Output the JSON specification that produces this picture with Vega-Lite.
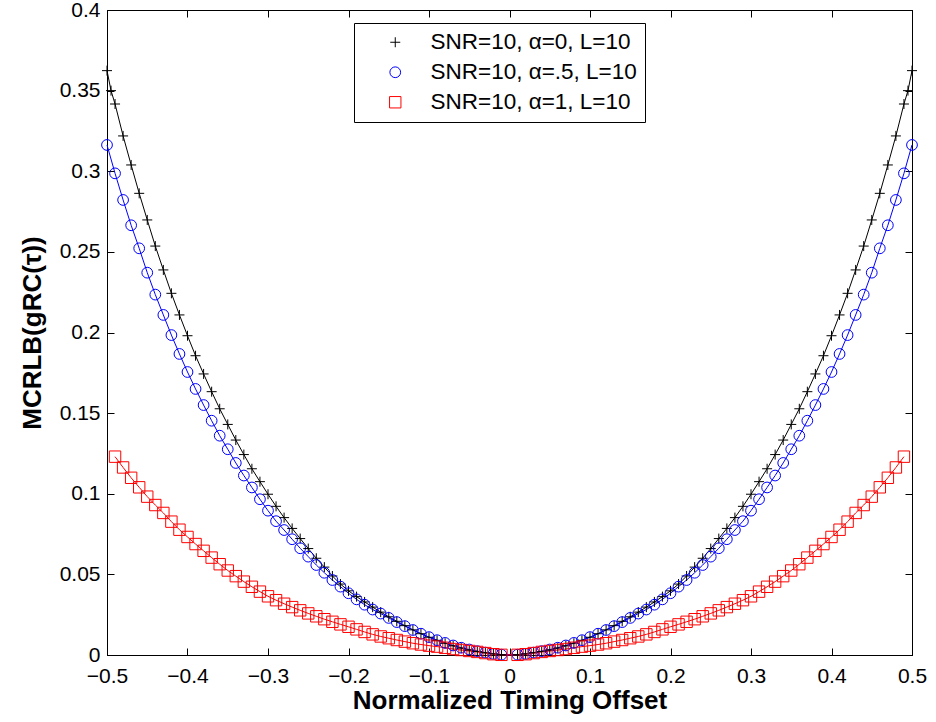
{
  "$schema": "https://vega.github.io/schema/vega-lite/v6.json",
  "width": 805,
  "height": 645,
  "autosize": {"type": "none"},
  "padding": {"left": 107, "top": 10, "right": 24, "bottom": 67},
  "background": "white",
  "config": {
    "view": {"stroke": "black", "strokeWidth": 1},
    "font": "Liberation Sans",
    "axis": {
      "grid": false,
      "domainColor": "black",
      "tickColor": "black",
      "labelColor": "black",
      "titleColor": "black",
      "labelFont": "Liberation Sans",
      "titleFont": "Liberation Sans",
      "labelFontSize": 21,
      "titleFontSize": 26,
      "titleFontWeight": "bold",
      "tickSize": -7,
      "labelPadding": 14,
      "labelFlush": false
    },
    "legend": {
      "labelFont": "Liberation Sans",
      "labelFontSize": 22.5,
      "labelColor": "black",
      "labelLimit": 500
    }
  },
  "data": {
    "values": [
      {"x": -0.5, "k": 0.3624, "b": 0.3163},
      {"x": -0.495, "k": 0.350},
      {"x": -0.49, "k": 0.3417, "b": 0.2987, "r": 0.1230},
      {"x": -0.48, "k": 0.3219, "b": 0.2822, "r": 0.1163},
      {"x": -0.47, "k": 0.3039, "b": 0.2665, "r": 0.1099},
      {"x": -0.46, "k": 0.2863, "b": 0.2522, "r": 0.1040},
      {"x": -0.45, "k": 0.2698, "b": 0.2371, "r": 0.0982},
      {"x": -0.44, "k": 0.2536, "b": 0.2235, "r": 0.0930},
      {"x": -0.43, "k": 0.2388, "b": 0.2109, "r": 0.0881},
      {"x": -0.42, "k": 0.2243, "b": 0.1984, "r": 0.0827},
      {"x": -0.41, "k": 0.2109, "b": 0.1867, "r": 0.0777},
      {"x": -0.4, "k": 0.1980, "b": 0.1755, "r": 0.0732},
      {"x": -0.39, "k": 0.1856, "b": 0.1650, "r": 0.0688},
      {"x": -0.38, "k": 0.1743, "b": 0.1550, "r": 0.0646},
      {"x": -0.37, "k": 0.1633, "b": 0.1453, "r": 0.0604},
      {"x": -0.36, "k": 0.1527, "b": 0.1360, "r": 0.0563},
      {"x": -0.35, "k": 0.1430, "b": 0.1276, "r": 0.0524},
      {"x": -0.34, "k": 0.1333, "b": 0.1191, "r": 0.0489},
      {"x": -0.33, "k": 0.1243, "b": 0.1113, "r": 0.0455},
      {"x": -0.32, "k": 0.1155, "b": 0.1039, "r": 0.0423},
      {"x": -0.31, "k": 0.1075, "b": 0.0966, "r": 0.0393},
      {"x": -0.3, "k": 0.0997, "b": 0.0895, "r": 0.0364},
      {"x": -0.29, "k": 0.0922, "b": 0.0830, "r": 0.0340},
      {"x": -0.28, "k": 0.0852, "b": 0.0775, "r": 0.0318},
      {"x": -0.27, "k": 0.0785, "b": 0.0718, "r": 0.0297},
      {"x": -0.26, "k": 0.0722, "b": 0.0662, "r": 0.0277},
      {"x": -0.25, "k": 0.0660, "b": 0.0610, "r": 0.0258},
      {"x": -0.24, "k": 0.0600, "b": 0.0558, "r": 0.0240},
      {"x": -0.23, "k": 0.0545, "b": 0.0510, "r": 0.0222},
      {"x": -0.22, "k": 0.0490, "b": 0.0465, "r": 0.0206},
      {"x": -0.21, "k": 0.0440, "b": 0.0424, "r": 0.0190},
      {"x": -0.2, "k": 0.0398, "b": 0.0383, "r": 0.0175},
      {"x": -0.19, "k": 0.0362, "b": 0.0345, "r": 0.0159},
      {"x": -0.18, "k": 0.0329, "b": 0.0312, "r": 0.0143},
      {"x": -0.17, "k": 0.0297, "b": 0.0282, "r": 0.0128},
      {"x": -0.16, "k": 0.0266, "b": 0.0257, "r": 0.0115},
      {"x": -0.15, "k": 0.0237, "b": 0.0230, "r": 0.0104},
      {"x": -0.14, "k": 0.0209, "b": 0.0204, "r": 0.0093},
      {"x": -0.13, "k": 0.0182, "b": 0.0179, "r": 0.0083},
      {"x": -0.12, "k": 0.0156, "b": 0.0155, "r": 0.0073},
      {"x": -0.11, "k": 0.0132, "b": 0.0132, "r": 0.0065},
      {"x": -0.1, "k": 0.0110, "b": 0.0111, "r": 0.0058},
      {"x": -0.09, "k": 0.0091, "b": 0.0092, "r": 0.0052},
      {"x": -0.08, "k": 0.0073, "b": 0.0075, "r": 0.0045},
      {"x": -0.07, "k": 0.0057, "b": 0.0059, "r": 0.0037},
      {"x": -0.06, "k": 0.0043, "b": 0.0045, "r": 0.0031},
      {"x": -0.05, "k": 0.0031, "b": 0.0034, "r": 0.0025},
      {"x": -0.04, "k": 0.0022, "b": 0.0024, "r": 0.0019},
      {"x": -0.03, "k": 0.0014, "b": 0.0015, "r": 0.0012},
      {"x": -0.02, "k": 0.0007, "b": 0.0007, "r": 0.0005},
      {"x": -0.01, "k": 0.0002, "b": 0.0002, "r": 0.0001},
      {"x": 0.01, "k": 0.0002, "b": 0.0002, "r": 0.0001},
      {"x": 0.02, "k": 0.0007, "b": 0.0007, "r": 0.0005},
      {"x": 0.03, "k": 0.0014, "b": 0.0015, "r": 0.0012},
      {"x": 0.04, "k": 0.0022, "b": 0.0024, "r": 0.0019},
      {"x": 0.05, "k": 0.0031, "b": 0.0034, "r": 0.0025},
      {"x": 0.06, "k": 0.0043, "b": 0.0045, "r": 0.0031},
      {"x": 0.07, "k": 0.0057, "b": 0.0059, "r": 0.0037},
      {"x": 0.08, "k": 0.0073, "b": 0.0075, "r": 0.0045},
      {"x": 0.09, "k": 0.0091, "b": 0.0092, "r": 0.0052},
      {"x": 0.1, "k": 0.0110, "b": 0.0111, "r": 0.0058},
      {"x": 0.11, "k": 0.0132, "b": 0.0132, "r": 0.0065},
      {"x": 0.12, "k": 0.0156, "b": 0.0155, "r": 0.0073},
      {"x": 0.13, "k": 0.0182, "b": 0.0179, "r": 0.0083},
      {"x": 0.14, "k": 0.0209, "b": 0.0204, "r": 0.0093},
      {"x": 0.15, "k": 0.0237, "b": 0.0230, "r": 0.0104},
      {"x": 0.16, "k": 0.0266, "b": 0.0257, "r": 0.0115},
      {"x": 0.17, "k": 0.0297, "b": 0.0282, "r": 0.0128},
      {"x": 0.18, "k": 0.0329, "b": 0.0312, "r": 0.0143},
      {"x": 0.19, "k": 0.0362, "b": 0.0345, "r": 0.0159},
      {"x": 0.2, "k": 0.0398, "b": 0.0383, "r": 0.0175},
      {"x": 0.21, "k": 0.0440, "b": 0.0424, "r": 0.0190},
      {"x": 0.22, "k": 0.0490, "b": 0.0465, "r": 0.0206},
      {"x": 0.23, "k": 0.0545, "b": 0.0510, "r": 0.0222},
      {"x": 0.24, "k": 0.0600, "b": 0.0558, "r": 0.0240},
      {"x": 0.25, "k": 0.0660, "b": 0.0610, "r": 0.0258},
      {"x": 0.26, "k": 0.0722, "b": 0.0662, "r": 0.0277},
      {"x": 0.27, "k": 0.0785, "b": 0.0718, "r": 0.0297},
      {"x": 0.28, "k": 0.0852, "b": 0.0775, "r": 0.0318},
      {"x": 0.29, "k": 0.0922, "b": 0.0830, "r": 0.0340},
      {"x": 0.3, "k": 0.0997, "b": 0.0895, "r": 0.0364},
      {"x": 0.31, "k": 0.1075, "b": 0.0966, "r": 0.0393},
      {"x": 0.32, "k": 0.1155, "b": 0.1039, "r": 0.0423},
      {"x": 0.33, "k": 0.1243, "b": 0.1113, "r": 0.0455},
      {"x": 0.34, "k": 0.1333, "b": 0.1191, "r": 0.0489},
      {"x": 0.35, "k": 0.1430, "b": 0.1276, "r": 0.0524},
      {"x": 0.36, "k": 0.1527, "b": 0.1360, "r": 0.0563},
      {"x": 0.37, "k": 0.1633, "b": 0.1453, "r": 0.0604},
      {"x": 0.38, "k": 0.1743, "b": 0.1550, "r": 0.0646},
      {"x": 0.39, "k": 0.1856, "b": 0.1650, "r": 0.0688},
      {"x": 0.4, "k": 0.1980, "b": 0.1755, "r": 0.0732},
      {"x": 0.41, "k": 0.2109, "b": 0.1867, "r": 0.0777},
      {"x": 0.42, "k": 0.2243, "b": 0.1984, "r": 0.0827},
      {"x": 0.43, "k": 0.2388, "b": 0.2109, "r": 0.0881},
      {"x": 0.44, "k": 0.2536, "b": 0.2235, "r": 0.0930},
      {"x": 0.45, "k": 0.2698, "b": 0.2371, "r": 0.0982},
      {"x": 0.46, "k": 0.2863, "b": 0.2522, "r": 0.1040},
      {"x": 0.47, "k": 0.3039, "b": 0.2665, "r": 0.1099},
      {"x": 0.48, "k": 0.3219, "b": 0.2822, "r": 0.1163},
      {"x": 0.49, "k": 0.3417, "b": 0.2987, "r": 0.1230},
      {"x": 0.495, "k": 0.350},
      {"x": 0.5, "k": 0.3624, "b": 0.3163}
    ]
  },
  "transform": [
    {"fold": ["k", "b", "r"], "as": ["s", "v"]},
    {"filter": "isValid(datum.v)"}
  ],
  "layer": [
    {
      "mark": {"type": "line", "strokeWidth": 1},
      "encoding": {
        "x": {
          "field": "x", "type": "quantitative",
          "scale": {"domain": [-0.5, 0.5], "nice": false, "zero": false},
          "axis": {"title": "Normalized Timing Offset", "values": [-0.5, -0.4, -0.3, -0.2, -0.1, 0, 0.1, 0.2, 0.3, 0.4, 0.5], "format": "~f", "labelPadding": 17, "titlePadding": 1}
        },
        "y": {
          "field": "v", "type": "quantitative",
          "scale": {"domain": [0, 0.4], "nice": false, "zero": false},
          "axis": {"title": "MCRLB(gRC(τ))", "values": [0, 0.05, 0.1, 0.15, 0.2, 0.25, 0.3, 0.35, 0.4], "format": "~f", "titlePadding": 14}
        },
        "stroke": {
          "field": "s", "type": "nominal",
          "scale": {"domain": ["k", "b", "r"], "range": ["#000000", "#0000ff", "#ff0000"]}
        }
      }
    },
    {
      "mark": {"type": "point", "filled": false, "strokeWidth": 1, "opacity": 1},
      "encoding": {
        "x": {
          "field": "x", "type": "quantitative",
          "scale": {"domain": [-0.5, 0.5], "nice": false, "zero": false},
          "axis": {"title": null, "labels": false, "values": [-0.5, -0.4, -0.3, -0.2, -0.1, 0, 0.1, 0.2, 0.3, 0.4, 0.5]}
        },
        "y": {
          "field": "v", "type": "quantitative",
          "scale": {"domain": [0, 0.4], "nice": false, "zero": false},
          "axis": {"title": null, "labels": false, "values": [0, 0.05, 0.1, 0.15, 0.2, 0.25, 0.3, 0.35, 0.4]}
        },
        "shape": {
          "field": "s", "type": "nominal",
          "scale": {"domain": ["k", "b", "r"], "range": ["M-1,0H1M0,-1V1", "circle", "square"]}
        },
        "stroke": {
          "field": "s", "type": "nominal",
          "scale": {"domain": ["k", "b", "r"], "range": ["#000000", "#0000ff", "#ff0000"]},
          "legend": {
            "title": null,
            "orient": "none",
            "legendX": 247,
            "legendY": 13,
            "strokeColor": "black",
            "fillColor": "white",
            "padding": 8,
            "rowPadding": 7,
            "symbolOffset": 22,
            "labelOffset": 24,
            "labelFontSize": 22.5,
            "labelLimit": 500,
            "symbolStrokeWidth": 1,
            "symbolFillColor": "transparent",
            "labelExpr": "datum.label == 'k' ? 'SNR=10, α=0, L=10' : datum.label == 'b' ? 'SNR=10, α=.5, L=10' : 'SNR=10, α=1, L=10'"
          }
        },
        "size": {
          "field": "s", "type": "nominal",
          "scale": {"domain": ["k", "b", "r"], "range": [100, 130, 81]}
        }
      }
    }
  ],
  "resolve": {"axis": {"x": "independent", "y": "independent"}}
}
